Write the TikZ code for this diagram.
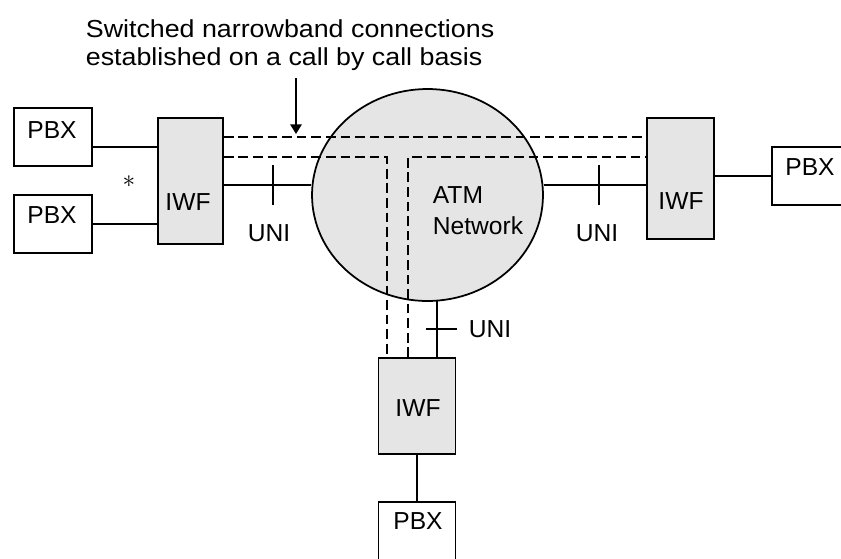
\documentclass[tikz,border=0pt]{standalone}
\usepackage{fontspec}
\setmainfont{Liberation Sans}
\usetikzlibrary{shapes.geometric,arrows.meta}
\begin{document}
\begin{tikzpicture}[x=0.02cm,y=-0.02cm,line width=1pt,
  every node/.style={font=\fontsize{14}{17}\selectfont},
  pbx/.style={draw, line width=1pt, minimum width=1.56cm, minimum height=1.16cm, inner sep=0pt},
  iwf/.style={draw, line width=1pt, fill=gray!20, inner sep=0pt},
  dsh/.style={line width=1.5pt, dash pattern=on 5.5pt off 2.8pt}]
\useasboundingbox (0,0) rectangle (841,558);
\clip (0,0) rectangle (841,558);
% network cloud
\node[ellipse, draw, fill=gray!20, minimum width=4.62cm, minimum height=4.24cm] (atm) at (427.5,195) {};
\node[anchor=north west, align=left, inner sep=0pt, font=\fontsize{14}{17.6}\selectfont] (atmtxt) at (432,186) {ATM\\Network};
% interworking units
\node[iwf, minimum width=1.3cm, minimum height=2.52cm] (iwfa) at (190.5,181) {};
\node[iwf, minimum width=1.34cm, minimum height=2.42cm] (iwfr) at (680.5,178.5) {};
\node[iwf, minimum width=1.54cm, minimum height=1.92cm] (iwfb) at (417,406) {};
\node (iwfatxt) at (188,202) {IWF};
\node (iwfrtxt) at (681,201) {IWF};
\node (iwfbtxt) at (418,408) {IWF};
% PBXs
\node[pbx] (pbxa) at (53,137) {};
\node[pbx] (pbxb) at (53,224) {};
\node[pbx] (pbxr) at (811,176) {};
\node[pbx, minimum width=1.54cm] (pbxd) at (417,531) {};
\node (pbxatxt) at (52,130) {PBX};
\node (pbxbtxt) at (52,215) {PBX};
\node (pbxrtxt) at (810,167) {PBX};
\node (pbxdtxt) at (418,521) {PBX};
% access lines
\draw (pbxa.east |- 0,147) -- (iwfa.west |- 0,147);
\draw (pbxb.east) -- (pbxb.east -| iwfa.west);
\draw (iwfr.east |- pbxr.west) -- (pbxr.west);
\draw (iwfb.south) -- (pbxd.north -| iwfb.south);
% UNIs
\draw (iwfa.east |- 0,185) -- (atm.west |- 0,185);
\draw (atm.east |- 0,185) -- (iwfr.west |- 0,185);
\draw (437,301) -- (iwfb.north -| 437,0);
\draw (273,165) -- (273,205);
\draw (599,165) -- (599,205);
\draw (426,329) -- (457,329);
\node (unia) at (269,233) {UNI};
\node (unir) at (597,233) {UNI};
\node (unib) at (490,329) {UNI};
\node (star) at (129,182) {$*$};
% switched connections
\draw[dsh] (iwfa.east |- 0,137) -- (iwfr.west |- 0,137);
\draw[dsh] (iwfa.east |- 0,157) -- (387,157) -- (iwfb.north -| 387,0);
\draw[dsh] (iwfb.north -| 408,0) -- (408,157) -- (iwfr.west |- 0,157);
\node[anchor=north west, align=left, inner sep=0pt, font=\fontsize{14}{15.9}\selectfont] (title) at (85,19)
  {\scalebox{1.09}[1]{Switched narrowband connections}\\\scalebox{1.09}[1]{established on a call by call basis}};
\coordinate (tip) at (296,134);
\draw[-{Triangle[width=6.5pt,length=5.5pt]}] (296,78) -- (tip);
\end{tikzpicture}
\end{document}
